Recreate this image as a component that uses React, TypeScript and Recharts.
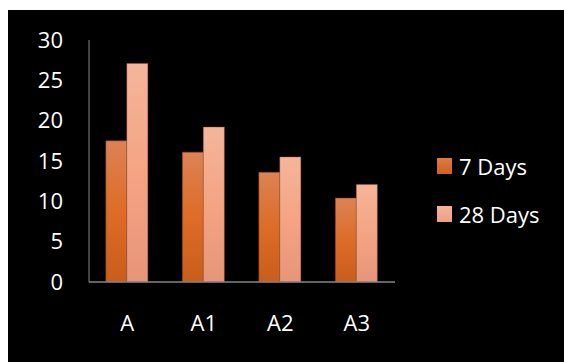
import React from 'react';
import {BarChart, Bar, XAxis, YAxis, Legend} from 'recharts';

const categories = ['A', 'A1', 'A2', 'A3'];
const days7 = [17.5, 16.1, 13.6, 10.4];
const days28 = [27.1, 19.2, 15.5, 12.1];
const yTicks = [0, 5, 10, 15, 20, 25, 30];

const seriesNames = ['7 Days', '28 Days'];

const data = categories.map((name, i) => ({
	name,
	d7: days7[i],
	d28: days28[i],
}));

const font = '"Open Sans", sans-serif';

function LegendBox() {
	const swatches = ['url(#legend7)', 'url(#legend28)'];
	return (
		<div style={{fontFamily: font, fontSize: 22, color: '#fff'}}>
			{seriesNames.map((name, i) => (
				<div key={name} style={{display: 'flex', alignItems: 'center', height: 48}}>
					<svg width={15} height={16} style={{marginRight: 7}}>
						<defs>
							<linearGradient id={i === 0 ? 'legend7' : 'legend28'} x1='0' y1='0' x2='0' y2='1'>
								<stop offset='0%' stopColor={i === 0 ? '#dc7a45' : '#f5b49a'}/>
								<stop offset='100%' stopColor={i === 0 ? '#d0611f' : '#eda083'}/>
							</linearGradient>
						</defs>
						<rect width={15} height={16} fill={swatches[i]}/>
					</svg>
					<span>{name}</span>
				</div>
			))}
		</div>
	);
}

export default function App() {
	return (
		<div style={{position: 'absolute', left: 8, top: 10, width: 556, height: 352, background: '#000'}}>
			<BarChart
				width={556}
				height={352}
				data={data}
				barCategoryGap='22%'
				barGap={0}
				margin={{top: 30, right: 42, left: 0, bottom: 50}}
			>
				<defs>
					<linearGradient id='grad7' x1='0' y1='0' x2='0' y2='1'>
						<stop offset='0%' stopColor='#dc8255'/>
						<stop offset='50%' stopColor='#dd6c27'/>
						<stop offset='100%' stopColor='#c95d1b'/>
					</linearGradient>
					<linearGradient id='grad28' x1='0' y1='0' x2='0' y2='1'>
						<stop offset='0%' stopColor='#f5b59a'/>
						<stop offset='50%' stopColor='#f4a483'/>
						<stop offset='100%' stopColor='#e6957a'/>
					</linearGradient>
				</defs>
				<XAxis
					dataKey='name'
					height={30}
					tickLine={false}
					tickMargin={27}
					axisLine={{stroke: '#868686', strokeWidth: 1.5}}
					tick={{fill: '#fff', fontSize: 22, fontFamily: font}}
				/>
				<YAxis
					width={81}
					domain={[0, 30]}
					ticks={yTicks}
					interval={0}
					tickLine={false}
					tickMargin={20}
					axisLine={{stroke: '#868686', strokeWidth: 1}}
					tick={{fill: '#fff', fontSize: 22, fontFamily: font}}
				/>
				<Legend
					layout='vertical'
					align='right'
					verticalAlign='top'
					content={<LegendBox/>}
					wrapperStyle={{left: 429, top: 132, width: 127}}
				/>
				<Bar dataKey='d7' name={seriesNames[0]} fill='url(#grad7)' stroke='#8a3d10' strokeOpacity={0.5} strokeWidth={1} isAnimationActive={false}/>
				<Bar dataKey='d28' name={seriesNames[1]} fill='url(#grad28)' stroke='#9a5a40' strokeOpacity={0.4} strokeWidth={1} isAnimationActive={false}/>
			</BarChart>
		</div>
	);
}
